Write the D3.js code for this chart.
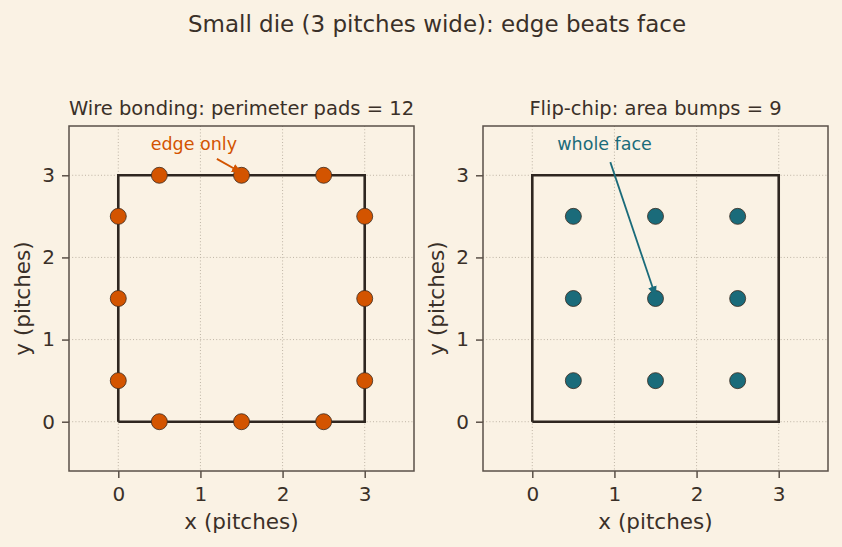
<!DOCTYPE html>
<html><head><meta charset="utf-8">
<script src="https://cdn.jsdelivr.net/npm/d3@7"></script>
<style>body{margin:0;background:#faf2e4;}svg{display:block;font-family:"DejaVu Sans",sans-serif;}</style>
</head><body><svg id="c" width="842" height="547"></svg>
<script>
const title = "Small die (3 pitches wide): edge beats face";
const leftTitle = "Wire bonding: perimeter pads = 12";
const rightTitle = "Flip-chip: area bumps = 9";
const ticks = [0, 1, 2, 3];
const dieOutline = [[0,0],[3,0],[3,3],[0,3],[0,0]];
const perimeterPads = [[0.5,3],[1.5,3],[2.5,3],[3,2.5],[3,1.5],[3,0.5],[2.5,0],[1.5,0],[0.5,0],[0,0.5],[0,1.5],[0,2.5]];
const areaBumps = [[0.5,0.5],[1.5,0.5],[2.5,0.5],[0.5,1.5],[1.5,1.5],[2.5,1.5],[0.5,2.5],[1.5,2.5],[2.5,2.5]];
const leftNote = {text:"edge only", textAt:[0.92,3.31], from:[1.2,3.2], to:[1.5,3.03]};
const rightNote = {text:"whole face", textAt:[0.88,3.31], from:[0.95,3.16], to:[1.5,1.53]};
const domain = [-0.6, 3.6];

const svg = d3.select("#c");
const ink = "#3a3028", spine = "#5a5048";
svg.append("text").attr("x",437).attr("y",32).attr("text-anchor","middle").attr("font-size",23).attr("fill",ink).text(title);

const defs = svg.append("defs");
[["aO","#d35400"],["aT","#1a6b7a"]].forEach(([id,c])=>{
  defs.append("marker").attr("id",id).attr("viewBox","0 0 10 10").attr("refX",9).attr("refY",5)
    .attr("markerWidth",6).attr("markerHeight",6).attr("orient","auto")
    .append("path").attr("d","M0,1 L10,5 L0,9 Z").attr("fill",c);
});

function panel(x0, ttl, pts, color, note, mk){
  const w = 345, h = 345, y0 = 126;
  const x = d3.scaleLinear().domain(domain).range([x0, x0+w]);
  const y = d3.scaleLinear().domain(domain).range([y0+h, y0]);
  const g = svg.append("g");
  ticks.forEach(t=>{
    g.append("line").attr("x1",x(t)).attr("x2",x(t)).attr("y1",y0).attr("y2",y0+h)
      .attr("stroke","#b8ae9e").attr("stroke-width",0.9).attr("stroke-dasharray","1,2.2");
    g.append("line").attr("x1",x0).attr("x2",x0+w).attr("y1",y(t)).attr("y2",y(t))
      .attr("stroke","#b8ae9e").attr("stroke-width",0.9).attr("stroke-dasharray","1,2.2");
  });
  const ax = g.append("g").attr("transform",`translate(0,${y0+h})`).call(d3.axisBottom(x).tickValues(ticks).tickSize(7).tickPadding(9).tickFormat(d3.format("d")));
  const ay = g.append("g").attr("transform",`translate(${x0},0)`).call(d3.axisLeft(y).tickValues(ticks).tickSize(7).tickPadding(7).tickFormat(d3.format("d")));
  [ax,ay].forEach(a=>{
    a.select(".domain").remove();
    a.selectAll("line").attr("stroke",spine).attr("stroke-width",1.5);
    a.selectAll("text").attr("fill",ink).attr("font-size",20).attr("font-family","DejaVu Sans");
  });
  g.append("rect").attr("x",x0).attr("y",y0).attr("width",w).attr("height",h)
    .attr("fill","none").attr("stroke",spine).attr("stroke-width",1.5);
  g.append("path").attr("d",d3.line().x(d=>x(d[0])).y(d=>y(d[1]))(dieOutline))
    .attr("fill","none").attr("stroke","#2e2620").attr("stroke-width",2.6);
  g.selectAll("circle.p").data(pts).join("circle").attr("cx",d=>x(d[0])).attr("cy",d=>y(d[1]))
    .attr("r",8).attr("fill",color).attr("stroke","#3a2a1e").attr("stroke-width",0.8);
  g.append("text").attr("x",x(note.textAt[0])).attr("y",y(note.textAt[1])).attr("text-anchor","middle")
    .attr("font-size",17.5).attr("fill",color).text(note.text);
  g.append("line").attr("x1",x(note.from[0])).attr("y1",y(note.from[1])).attr("x2",x(note.to[0])).attr("y2",y(note.to[1]))
    .attr("stroke",color).attr("stroke-width",1.8).attr("marker-end",`url(#${mk})`);
  g.append("text").attr("x",x0+w/2).attr("y",y0-11).attr("text-anchor","middle").attr("font-size",19.5).attr("fill",ink).text(ttl);
  g.append("text").attr("x",x0+w/2).attr("y",529).attr("text-anchor","middle").attr("font-size",21.5).attr("fill",ink).text("x (pitches)");
  g.append("text").attr("transform",`translate(${x0-39},${y0+h/2}) rotate(-90)`).attr("text-anchor","middle").attr("font-size",21.5).attr("fill",ink).text("y (pitches)");
}
panel(69, leftTitle, perimeterPads, "#d35400", leftNote, "aO");
panel(483, rightTitle, areaBumps, "#1a6b7a", rightNote, "aT");
</script></body></html>
